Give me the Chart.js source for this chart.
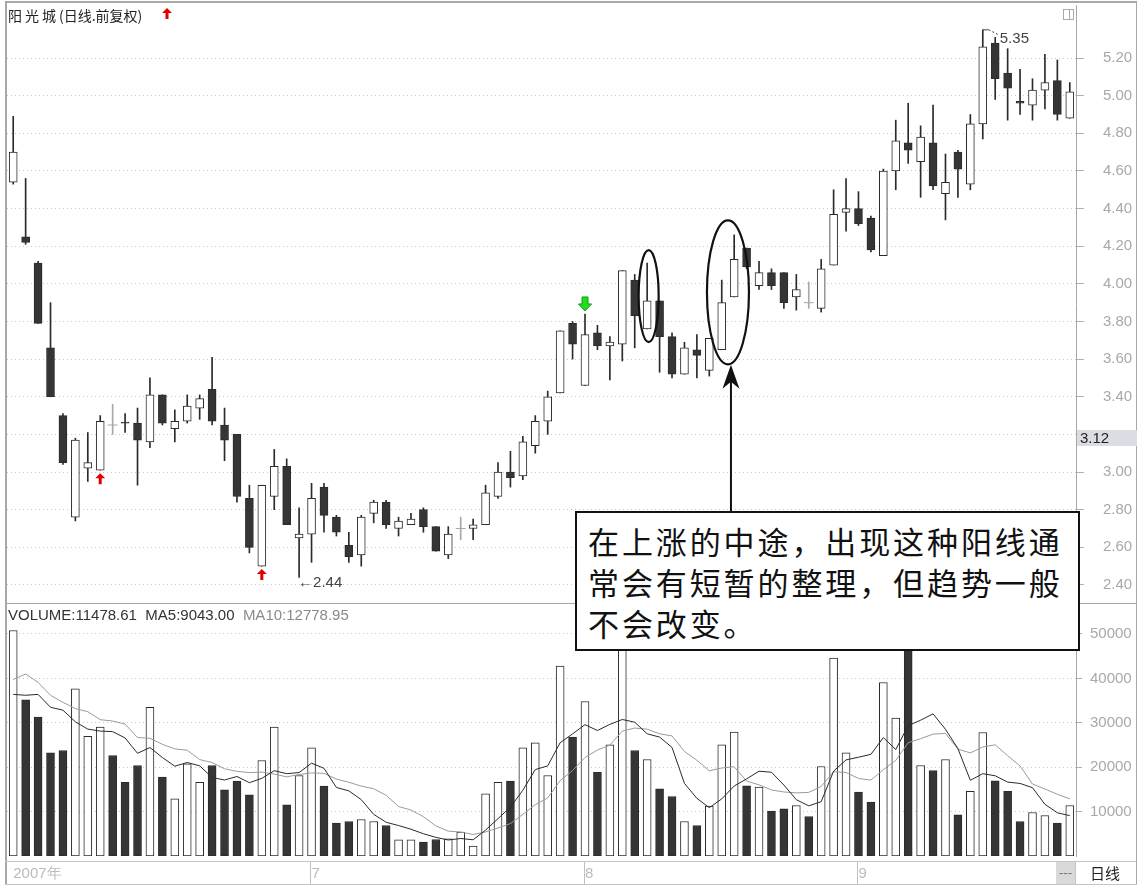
<!DOCTYPE html>
<html>
<head>
<meta charset="utf-8">
<title>阳光城 日线</title>
<script src="https://cdn.jsdelivr.net/npm/chart.js@4.4.1/dist/chart.umd.min.js"></script>
<style>
  body { margin: 0; background: #fff; }
  #frame { position: relative; width: 1140px; height: 890px; overflow: hidden; font-family: "Liberation Sans", Arial, sans-serif; }
  canvas { position: absolute; left: 0; }
  .rule { position: absolute; background: #a8a8a8; }
  .soft { position: absolute; background: #c4c4c4; }
  #title { position: absolute; left: 8px; top: 6px; font: 14px/18px "Noto Sans CJK SC", sans-serif; color: #222; }
  #title .name { letter-spacing: 3px; }
  #volTitle { position: absolute; left: 8px; top: 606px; font: 15px/18px "Liberation Sans", Arial, sans-serif; color: #333; white-space: pre; }
  #volTitle .ma10 { color: #8a8a8a; }
  #lastPrice { position: absolute; left: 1077px; top: 430px; width: 60px; height: 16px; background: #dcdce4; font: 15px/16px "Liberation Sans", Arial, sans-serif; color: #222; padding-left: 3px; box-sizing: border-box; }
  #note { position: absolute; left: 575px; top: 511px; width: 505px; height: 140px; box-sizing: border-box; border: 2px solid #111; background: #fff; padding: 7px 0 0 11px; font-family: "Noto Sans CJK SC", sans-serif; font-size: 31px; line-height: 41px; letter-spacing: 2.9px; color: #111; white-space: nowrap; }
  #dash { position: absolute; left: 1056px; top: 862px; width: 19px; height: 22px; background: #d9d9d9; color: #777; font: 13px/22px "Liberation Sans", Arial, sans-serif; text-align: center; }
  #period { position: absolute; left: 1076px; top: 862px; width: 58px; height: 22px; font: 15px/22px "Noto Sans CJK SC", sans-serif; color: #222; text-align: center; }
  #icon { position: absolute; left: 1063px; top: 9px; width: 9px; height: 9px; border: 1px solid #aaa; }
  #icon::after { content: ""; position: absolute; left: 5px; top: 0; width: 1px; height: 9px; background: #aaa; }
</style>
</head>
<body>
<div id="frame">
  <canvas id="priceChart" width="1140" height="604" style="top:0"></canvas>
  <canvas id="volChart" width="1140" height="286" style="top:604px"></canvas>

  <div class="rule" style="left:5px;top:1px;width:1132px;height:2px"></div>
  <div class="rule" style="left:5px;top:1px;width:2px;height:884px"></div>
  <div class="rule" style="left:1136px;top:1px;width:1px;height:884px"></div>
  <div class="rule" style="left:5px;top:603px;width:1131px;height:1px"></div>
  <div class="soft" style="left:5px;top:861px;width:1131px;height:1px"></div>
  <div class="soft" style="left:5px;top:884px;width:1132px;height:1px"></div>
  <div class="soft" style="left:1075px;top:861px;width:1px;height:23px"></div>

  <div id="title"><span class="name">阳光城</span>(日线.前复权)</div>
  <div id="icon"></div>
  <div id="volTitle">VOLUME:11478.61  MA5:9043.00  <span class="ma10">MA10:12778.95</span></div>
  <div id="lastPrice">3.12</div>
  <div id="dash">---</div>
  <div id="period">日线</div>
  <div id="note">在上涨的中途，出现这种阳线通<br>常会有短暂的整理，但趋势一般<br>不会改变。</div>
</div>

<script>
// daily candles (前复权 prices)
const opens  = [4.54, 4.25, 4.11, 3.66, 3.30, 2.76, 3.02, 3.01, 3.25, 3.265,
                3.26, 3.16, 3.41, 3.23, 3.27, 3.34, 3.44, 3.25, 3.20, 2.86,
                2.50, 2.87, 3.03, 2.65, 2.67, 2.92, 2.76, 2.61, 2.56, 2.78,
                2.84, 2.70, 2.72, 2.80, 2.71, 2.56, 2.70, 2.70, 2.72, 2.87,
                3.00, 2.98, 3.14, 3.27, 3.42, 3.79, 3.46, 3.74, 3.67, 3.68,
                4.02, 3.76, 3.91, 3.72, 3.52, 3.65, 3.54, 3.65, 3.93, 4.19,
                3.99, 4.06, 4.06, 3.93, 3.90, 3.87, 4.10, 4.38, 4.40, 4.35,
                4.15, 4.60, 4.75, 4.65, 4.75, 4.48, 4.70, 4.53, 4.85, 5.28,
                5.12, 4.97, 4.95, 5.03, 5.08, 4.88];
const highs  = [4.89, 4.56, 4.12, 3.90, 3.31, 3.18, 3.21, 3.30, 3.36, 3.31,
                3.34, 3.50, 3.41, 3.33, 3.41, 3.41, 3.61, 3.34, 3.20, 2.93,
                2.93, 3.12, 3.07, 2.81, 2.94, 2.94, 2.77, 2.68, 2.77, 2.85,
                2.85, 2.76, 2.78, 2.81, 2.71, 2.71, 2.76, 2.75, 2.93, 3.05,
                3.11, 3.19, 3.30, 3.43, 3.75, 3.80, 3.84, 3.78, 3.72, 4.07,
                4.05, 4.11, 3.91, 3.74, 3.69, 3.73, 3.71, 4.02, 4.26, 4.19,
                4.12, 4.08, 4.06, 4.05, 4.01, 4.13, 4.50, 4.56, 4.49, 4.36,
                4.61, 4.87, 4.96, 4.84, 4.95, 4.69, 4.71, 4.90, 5.35, 5.31,
                5.25, 5.14, 5.09, 5.22, 5.19, 5.07];
const lows   = [4.53, 4.21, 3.79, 3.40, 3.04, 2.74, 2.95, 3.01, 3.20, 3.21,
                2.93, 3.13, 3.25, 3.16, 3.26, 3.28, 3.25, 3.06, 2.84, 2.57,
                2.50, 2.80, 2.72, 2.44, 2.52, 2.68, 2.66, 2.52, 2.50, 2.73,
                2.70, 2.66, 2.72, 2.68, 2.58, 2.54, 2.64, 2.64, 2.72, 2.86,
                2.92, 2.96, 3.10, 3.20, 3.42, 3.60, 3.46, 3.65, 3.49, 3.59,
                3.66, 3.76, 3.53, 3.50, 3.52, 3.50, 3.51, 3.65, 3.93, 4.08,
                3.97, 3.97, 3.87, 3.86, 3.87, 3.85, 4.10, 4.28, 4.31, 4.17,
                4.15, 4.50, 4.64, 4.46, 4.50, 4.34, 4.46, 4.50, 4.77, 4.98,
                4.87, 4.90, 4.87, 4.93, 4.87, 4.88];
const closes = [4.70, 4.22, 3.79, 3.40, 3.05, 3.17, 3.05, 3.27, 3.25, 3.26,
                3.17, 3.41, 3.26, 3.27, 3.35, 3.39, 3.27, 3.17, 2.87, 2.60,
                2.93, 3.03, 2.72, 2.67, 2.86, 2.77, 2.68, 2.55, 2.76, 2.84,
                2.72, 2.74, 2.75, 2.71, 2.58, 2.67, 2.70, 2.72, 2.89, 3.00,
                2.97, 3.16, 3.27, 3.40, 3.75, 3.68, 3.73, 3.67, 3.69, 4.07,
                3.83, 3.91, 3.72, 3.52, 3.66, 3.62, 3.71, 3.90, 4.13, 4.09,
                4.06, 3.99, 3.90, 3.97, 3.90, 4.08, 4.37, 4.40, 4.32, 4.18,
                4.60, 4.76, 4.71, 4.78, 4.52, 4.54, 4.61, 4.85, 5.26, 5.09,
                5.04, 4.96, 5.03, 5.07, 4.90, 5.02];

// 成交量 and its 5 / 10 day averages
const volumes = [50790, 35180, 31260, 23240, 23760, 37660, 26980, 29010, 22640, 16620,
                 20380, 33510, 17750, 12880, 20770, 16620, 20380, 14910, 16850, 13780,
                 21510, 29010, 11530, 18130, 24370, 15720, 7390, 7770, 8220, 7770,
                 6870, 3650, 3650, 3110, 3720, 3870, 5360, 2210, 14010, 16620,
                 16850, 24370, 25500, 18130, 42750, 26760, 34800, 18870, 25050, 48220,
                 23760, 21730, 15130, 13400, 7770, 6870, 11220, 25050, 27890, 15810,
                 15500, 10090, 10630, 11370, 8900, 20160, 44550, 23240, 14370, 12120,
                 39080, 31040, 50300, 20380, 19260, 21730, 9280, 14590, 27810, 16940,
                 14590, 7770, 9800, 9120, 7390, 11370];
const ma5  = [36400, 36200, 36400, 33500, 32846, 30220, 28580, 28130, 28010, 26582,
              23126, 24432, 22180, 20228, 21058, 20306, 17680, 17112, 17906, 16508,
              17486, 19212, 18536, 18792, 20910, 19752, 15428, 14676, 12694, 9374,
              7604, 6856, 6032, 5010, 4200, 3600, 3942, 3654, 5834, 8414,
              11010, 14812, 19470, 20294, 25520, 27502, 29588, 28262, 29646, 30740,
              30140, 27526, 26778, 24448, 16358, 12980, 10878, 12862, 15760, 17368,
              19094, 18868, 15984, 12680, 11298, 12230, 19122, 21644, 22244, 22888,
              26672, 23970, 29382, 30584, 32012, 28542, 24190, 17048, 18534, 18070,
              16642, 16340, 15382, 11644, 9734, 9090];
const ma10 = [39750, 41000, 39100, 36200, 34600, 33200, 32500, 30700, 30400, 29714,
              26673, 26506, 25155, 24119, 23820, 21716, 21056, 19646, 19067, 18783,
              18896, 18446, 17824, 18349, 18709, 18619, 17320, 16606, 15743, 15142,
              13678, 11142, 10354, 8852, 6787, 5602, 5399, 4843, 5422, 6307,
              7305, 9377, 11562, 13064, 16967, 19256, 22200, 23866, 24970, 28130,
              28821, 28557, 27520, 27047, 23549, 21560, 19202, 19820, 20104, 16863,
              16037, 14873, 14423, 14220, 14333, 15662, 18995, 18814, 17462, 17093,
              19451, 21546, 25513, 26414, 27450, 27607, 24080, 23215, 24559, 25041,
              22592, 20265, 16215, 15089, 13902, 12866];

// axis ticks
const volTicks = [10000, 20000, 30000, 40000, 50000];
const monthStart = [0, 24, 46, 68];
const monthText  = ['2007年', '7', '8', '9'];

// marks drawn by the software on the chart
const buySignals  = [7, 20];
const sellSignals = [46];
const circled     = [[51], [57, 58]];

const days = opens.map((o, i) => i);

const DARK = '#353535';
const EDGE = '#2b2b2b';
const FLAT = '#a8a8a8';
const GRID = '#c8c8c8';
const AXIS_TXT = '#a8a8a8';

Chart.defaults.font.family = '"Liberation Sans", Arial, sans-serif';

const isFlat = i => closes[i] === opens[i];
const bodyFill = opens.map((o, i) => closes[i] > o ? '#fff' : DARK);
const wickColor = opens.map((o, i) => isFlat(i) ? FLAT : EDGE);
const volFill = volumes.map((v, i) => {
  if (closes[i] > opens[i]) return '#fff';
  if (closes[i] < opens[i]) return DARK;
  return i > 0 && closes[i] > closes[i - 1] ? '#fff' : DARK;
});

function upArrow(ctx, cx, top, fill) {
  ctx.beginPath();
  ctx.moveTo(cx, top);
  ctx.lineTo(cx + 5, top + 5);
  ctx.lineTo(cx + 1.5, top + 5);
  ctx.lineTo(cx + 1.5, top + 11);
  ctx.lineTo(cx - 1.5, top + 11);
  ctx.lineTo(cx - 1.5, top + 5);
  ctx.lineTo(cx - 5, top + 5);
  ctx.closePath();
  ctx.fillStyle = fill;
  ctx.fill();
}

function downArrow(ctx, cx, bottom) {
  ctx.beginPath();
  ctx.moveTo(cx, bottom);
  ctx.lineTo(cx + 6.5, bottom - 7);
  ctx.lineTo(cx + 3, bottom - 7);
  ctx.lineTo(cx + 3, bottom - 14);
  ctx.lineTo(cx - 3, bottom - 14);
  ctx.lineTo(cx - 3, bottom - 7);
  ctx.lineTo(cx - 6.5, bottom - 7);
  ctx.closePath();
  ctx.fillStyle = '#22dd22';
  ctx.fill();
  ctx.strokeStyle = '#119911';
  ctx.lineWidth = 1;
  ctx.stroke();
}

const priceMarks = {
  id: 'priceMarks',
  afterDatasetsDraw(chart) {
    const ctx = chart.ctx;
    const xs = chart.scales.x, ys = chart.scales.y;
    ctx.save();

    upArrow(ctx, 167, 8, '#e00000');
    buySignals.forEach(i => upArrow(ctx, xs.getPixelForValue(i), ys.getPixelForValue(lows[i]) + 3, '#e00000'));
    sellSignals.forEach(i => downArrow(ctx, xs.getPixelForValue(i), ys.getPixelForValue(highs[i]) - 3));

    // lowest low and highest high
    const lo = lows.indexOf(Math.min(...lows));
    const hi = highs.indexOf(Math.max(...highs));
    ctx.fillStyle = '#444';
    ctx.font = '15px "Liberation Sans", Arial, sans-serif';
    ctx.textBaseline = 'middle';
    ctx.textAlign = 'left';
    ctx.fillText('←' + lows[lo].toFixed(2), xs.getPixelForValue(lo) - 1, ys.getPixelForValue(lows[lo]) + 5);
    const hx = xs.getPixelForValue(hi), hy = ys.getPixelForValue(highs[hi]);
    ctx.strokeStyle = '#444';
    ctx.lineWidth = 1;
    ctx.beginPath();
    ctx.moveTo(hx, hy + 3); ctx.lineTo(hx, hy); ctx.lineTo(hx + 6, hy);
    ctx.stroke();
    ctx.setLineDash([2, 2]);
    ctx.beginPath();
    ctx.moveTo(hx + 6, hy); ctx.lineTo(hx + 16, hy + 5);
    ctx.stroke();
    ctx.setLineDash([]);
    ctx.fillText(highs[hi].toFixed(2), hx + 17, hy + 9);

    // hand drawn rings
    const ringSize = [[10, 46], [21, 72]];
    let arrowX = 0, arrowTip = 0;
    circled.forEach((grp, k) => {
      const cx = grp.reduce((s, i) => s + xs.getPixelForValue(i), 0) / grp.length + (grp.length === 1 ? 1.5 : 0);
      const top = ys.getPixelForValue(Math.max(...grp.map(i => highs[i])));
      const bot = ys.getPixelForValue(Math.min(...grp.map(i => lows[i])));
      const cy = (top + bot) / 2;
      const [rx, ry] = ringSize[k];
      ctx.beginPath();
      ctx.ellipse(cx, cy, rx, ry, 0, 0, Math.PI * 2);
      ctx.strokeStyle = '#111';
      ctx.lineWidth = 2.2;
      ctx.stroke();
      arrowX = cx + 3;
      arrowTip = cy + ry + 0.5;
    });

    // pointer from the note box up to the second ring
    ctx.strokeStyle = '#111';
    ctx.lineWidth = 2;
    ctx.beginPath();
    ctx.moveTo(arrowX, arrowTip + 15);
    ctx.lineTo(arrowX, 512);
    ctx.stroke();
    ctx.beginPath();
    ctx.moveTo(arrowX, arrowTip);
    ctx.lineTo(arrowX + 8.5, arrowTip + 24);
    ctx.lineTo(arrowX, arrowTip + 17);
    ctx.lineTo(arrowX - 8.5, arrowTip + 24);
    ctx.closePath();
    ctx.fillStyle = '#111';
    ctx.fill();

    ctx.restore();
  }
};

const monthLines = {
  id: 'monthLines',
  afterDraw(chart) {
    const ctx = chart.ctx;
    const xs = chart.scales.x;
    ctx.save();
    ctx.strokeStyle = '#c0c0c0';
    ctx.lineWidth = 1;
    monthStart.forEach(i => {
      if (i === 0) return;
      const x = Math.round(xs.getPixelForValue(i) - 1.5) + 0.5;
      ctx.beginPath();
      ctx.moveTo(x, 258);
      ctx.lineTo(x, 280);
      ctx.stroke();
    });
    ctx.restore();
  }
};

const fixAxis = w => s => {
  s.width = w;
  s.paddingTop = 0; s.paddingBottom = 0; s.paddingLeft = 0; s.paddingRight = 0;
};

const priceChart = new Chart(document.getElementById('priceChart'), {
  type: 'bar',
  data: {
    labels: days,
    datasets: [
      {
        label: 'wick',
        data: lows.map((l, i) => [l, highs[i]]),
        backgroundColor: wickColor,
        barThickness: 1,
        grouped: false,
        order: 3
      },
      {
        label: 'body',
        data: opens.map((o, i) => [o, closes[i]]),
        backgroundColor: bodyFill,
        borderColor: EDGE,
        borderWidth: 1,
        borderSkipped: false,
        barThickness: 8,
        grouped: false,
        order: 2
      },
      {
        type: 'line',
        label: 'flat',
        data: closes.map((c, i) => isFlat(i) ? c : null),
        showLine: false,
        pointStyle: 'line',
        pointRadius: 5,
        pointBorderWidth: 1,
        pointBorderColor: FLAT,
        order: 1
      }
    ]
  },
  options: {
    responsive: false,
    animation: false,
    events: [],
    devicePixelRatio: 1,
    layout: { autoPadding: false, padding: { left: 7, top: 5, right: 0, bottom: 1 } },
    plugins: { legend: { display: false }, tooltip: { enabled: false } },
    scales: {
      x: { display: false },
      y: {
        position: 'right',
        min: 2.304,
        max: 5.482,
        afterFit: fixAxis(64),
        border: { display: true, color: '#a8a8a8', width: 1, dash: [1, 3] },
        grid: {
          borderDash: [1, 3],
          color: c => (c.tick && c.tick.value > 5.3) ? 'rgba(0,0,0,0)' : GRID,
          tickColor: c => (c.tick && c.tick.value > 5.3) ? 'rgba(0,0,0,0)' : '#b0b0b0',
          tickBorderDash: [],
          tickLength: 8
        },
        ticks: {
          stepSize: 0.2,
          includeBounds: false,
          padding: 19,
          color: AXIS_TXT,
          font: { size: 15 },
          callback: v => (v > 5.3 || Math.abs(v - 3.2) < 0.01) ? '' : v.toFixed(2)
        }
      }
    }
  },
  plugins: [priceMarks]
});

const volChart = new Chart(document.getElementById('volChart'), {
  type: 'bar',
  data: {
    labels: days,
    datasets: [
      {
        type: 'line',
        label: 'MA5',
        data: ma5,
        borderColor: '#2a2a2a',
        borderWidth: 1,
        pointRadius: 0,
        tension: 0,
        order: 1
      },
      {
        type: 'line',
        label: 'MA10',
        data: ma10,
        borderColor: '#9a9a9a',
        borderWidth: 1,
        pointRadius: 0,
        tension: 0,
        order: 1
      },
      {
        label: 'VOLUME',
        data: volumes,
        backgroundColor: volFill,
        borderColor: EDGE,
        borderWidth: 1,
        borderSkipped: false,
        barThickness: 8,
        order: 2
      }
    ]
  },
  options: {
    responsive: false,
    animation: false,
    events: [],
    devicePixelRatio: 1,
    layout: { autoPadding: false, padding: { left: 7, top: 1, right: 0, bottom: 0 } },
    plugins: { legend: { display: false }, tooltip: { enabled: false } },
    scales: {
      x: {
        position: 'bottom',
        afterFit: s => { s.height = 34; s.paddingLeft = 0; s.paddingRight = 0; },
        border: { display: false },
        grid: { display: false, drawTicks: false },
        ticks: {
          autoSkip: false,
          maxRotation: 0,
          minRotation: 0,
          align: 'start',
          padding: 9,
          color: '#bcbcbc',
          font: { size: 15 },
          callback: (v, i) => {
            const k = monthStart.indexOf(i);
            return k < 0 ? '' : monthText[k];
          }
        }
      },
      y: {
        position: 'right',
        min: 0,
        max: 56530,
        afterFit: fixAxis(64),
        afterBuildTicks: s => { s.ticks = volTicks.map(v => ({ value: v })); },
        border: { display: true, color: '#a8a8a8', width: 1, dash: [1, 3] },
        grid: {
          borderDash: [1, 3],
          color: GRID,
          tickColor: '#b0b0b0',
          tickBorderDash: [],
          tickLength: 6
        },
        ticks: {
          padding: 8,
          color: AXIS_TXT,
          font: { size: 15 },
          callback: v => String(v)
        }
      }
    }
  },
  plugins: [monthLines]
});
</script>
</body>
</html>
